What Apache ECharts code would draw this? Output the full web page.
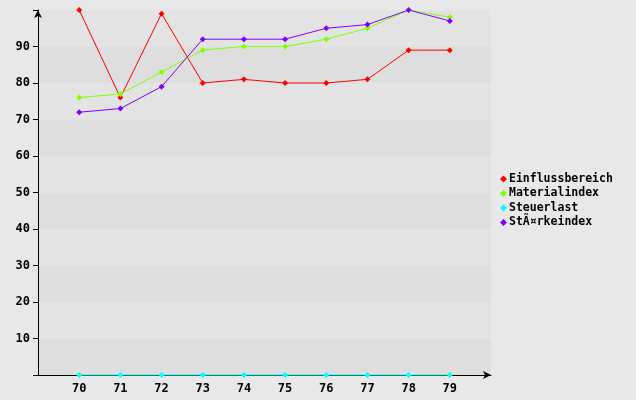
<!DOCTYPE html>
<html><head><meta charset="utf-8">
<script src="https://cdn.jsdelivr.net/npm/echarts@6/dist/echarts.min.js"></script>
<style>html,body{margin:0;padding:0;background:#e8e8e8}#c{width:636px;height:400px}</style>
</head><body><div id="c"></div>
<script>
var categories = [70, 71, 72, 73, 74, 75, 76, 77, 78, 79];
var einfluss = [100, 76, 99, 80, 81, 80, 80, 81, 89, 89];
var material = [76, 77, 83, 89, 90, 90, 92, 95, 100, 98];
var steuer = [0, 0, 0, 0, 0, 0, 0, 0, 0, 0];
var staerke = [72, 73, 79, 92, 92, 92, 95, 96, 100, 97];
var seriesNames = ['Einflussbereich', 'Materialindex', 'Steuerlast', 'StÃ¤rkeindex'];
var colors = ['#ff0000', '#80ff00', '#00ffff', '#8000ff'];
var yTicks = [10, 20, 30, 40, 50, 60, 70, 80, 90];

var font = {fontFamily: 'DejaVu Sans Mono', fontWeight: 'bold', fontSize: 12, color: '#000'};
function pairs(v){ return categories.map(function(c,i){ return [c, v[i]]; }); }
var allData = [einfluss, material, steuer, staerke];
var series = seriesNames.map(function(n, i){
  return {
    name: n, type: 'line', data: pairs(allData[i]),
    symbol: 'diamond', symbolSize: 6, clip: false, z: 5,
    itemStyle: {color: colors[i]},
    lineStyle: {color: colors[i], width: 1}
  };
});
var chart = echarts.init(document.getElementById('c'));
chart.setOption({
  backgroundColor: '#e8e8e8',
  animation: false,
  grid: {left: 38, top: 10, right: 145, bottom: 25, containLabel: false},
  legend: {
    orient: 'vertical', left: 495, top: 168, itemGap: 2.5,
    itemWidth: 7, itemHeight: 7, icon: 'diamond',
    textStyle: Object.assign({}, font, {fontSize: 11.5, padding: [0,0,0,-3]}),
    data: seriesNames
  },
  xAxis: {
    type: 'value', min: 69, max: 80, interval: 1,
    axisLine: {show: true, lineStyle: {color: '#000', width: 1}, symbol: ['none', 'arrow'], symbolSize: [6, 8]},
    axisTick: {show: false},
    splitLine: {show: false},
    axisLabel: Object.assign({}, font, {margin: 8, formatter: function(v){ return categories.indexOf(v) >= 0 ? String(v) : ''; }})
  },
  yAxis: {
    type: 'value', min: 0, max: 100, interval: 10,
    axisLine: {show: true, onZero: false, lineStyle: {color: '#000', width: 1}, symbol: ['none', 'arrow'], symbolSize: [6, 8]},
    axisTick: {show: true, length: 5, lineStyle: {color: '#000', width: 1}},
    splitLine: {show: false},
    splitArea: {show: true, areaStyle: {color: ['#dedede', '#e3e3e3']}},
    axisLabel: Object.assign({}, font, {margin: 8, formatter: function(v){ return yTicks.indexOf(v) >= 0 ? String(v) : ''; }})
  },
  series: series
});
</script></body></html>
